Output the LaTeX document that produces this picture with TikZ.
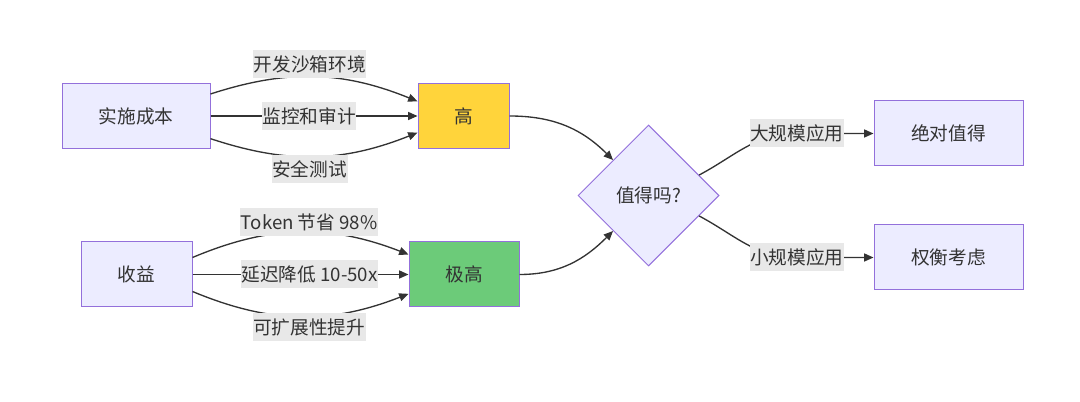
\documentclass[tikz,border=0pt]{standalone}
\usepackage{fontspec}
\setmainfont{Noto Sans CJK SC}
\usepackage{xcolor}
\usetikzlibrary{arrows.meta,shapes.geometric}

\definecolor{boxfill}{HTML}{ECECFF}
\definecolor{boxline}{HTML}{9370DB}
\definecolor{ink}{HTML}{333333}
\definecolor{lblfill}{HTML}{E8E8E8}
\definecolor{gold}{HTML}{FFD43B}
\definecolor{leaf}{HTML}{6CCB79}

\begin{document}
\begin{tikzpicture}[x=0.75pt,y=0.75pt,
		box/.style={draw=boxline,fill=boxfill,line width=0.75pt,minimum height=48.75pt,inner sep=0pt,text=ink,font=\fontsize{14}{16}\selectfont},
		ask/.style={box,diamond,aspect=1,minimum width=105.75pt,minimum height=105.75pt},
		lbl/.style={fill=lblfill,text=ink,inner xsep=0.5pt,inner ysep=0pt,minimum height=21pt,font=\fontsize{14}{16}\selectfont}]
		\useasboundingbox (0,0) rectangle (1080,402);
		\node[box,minimum width=111pt] (cost) at (136,286) {实施成本};
		\node[box,minimum width=68.25pt,fill=gold] (high) at (463.5,286) {高};
		\node[box,minimum width=83.25pt] (gain) at (136.5,127.5) {收益};
		\node[box,minimum width=82.5pt,fill=leaf] (vhigh) at (464,127.5) {极高};
		\node[ask] (worth) at (648.5,206.5) {值得吗?};
		\node[box,minimum width=111.75pt] (yes) at (948.5,268.5) {绝对值得};
		\node[box,minimum width=111.75pt] (weigh) at (948.5,144.5) {权衡考虑};
		%
		\path[-{Triangle[length=7pt,width=6pt]},color=ink,line width=1pt]
		([yshift=16.5pt]cost.east) edge[bend left=20] node[lbl,yshift=9.7pt,xshift=-3.75pt]{开发沙箱环境} ([yshift=11pt]high.west)
		(cost) edge node[lbl,xshift=-3.75pt]{监控和审计} (high)
		([yshift=-17pt]cost.east) edge[bend right=20] node[lbl,yshift=-9.75pt,xshift=-3.75pt]{安全测试} ([yshift=-12.5pt]high.west)
		([yshift=12.75pt]gain.east) edge[bend left=22] node[lbl,yshift=7.5pt,xshift=6.75pt]{Token 节省 98\%} ([yshift=15pt]vhigh.west)
		(gain) edge node[lbl,xshift=6.75pt]{延迟降低 10-50x} (vhigh)
		([yshift=-12.75pt]gain.east) edge[bend right=22] node[lbl,yshift=-8pt,xshift=6.75pt]{可扩展性提升} ([yshift=-14.5pt]vhigh.west)
		(high.east) edge[out=0,in=135] (worth.north west)
		(vhigh.east) edge[out=0,in=-135] (worth.south west);
		\draw[-{Triangle[length=7pt,width=6pt]},color=ink,line width=1pt]
		(worth.22) to[out=28,in=180] ([xshift=-57.4pt]yes.west) node[lbl]{大规模应用} -- (yes.west);
		\draw[-{Triangle[length=7pt,width=6pt]},color=ink,line width=1pt]
		(worth.-22) to[out=-28,in=180] ([xshift=-57.4pt]weigh.west) node[lbl]{小规模应用} -- (weigh.west);
		\end{tikzpicture}
\end{document}
